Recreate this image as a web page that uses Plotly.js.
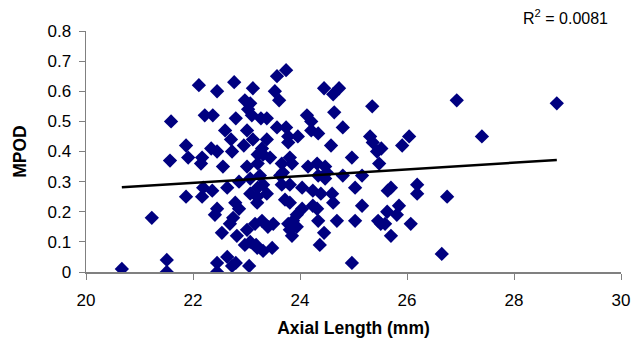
<!DOCTYPE html>
<html>
<head>
<meta charset="utf-8">
<script src="https://cdn.plot.ly/plotly-3.0.1.min.js"></script>
<style>html,body{margin:0;padding:0;background:#fff;}#chart{width:633px;height:346px;}</style>
</head>
<body>
<div id="chart"></div>
<script>
// Axial length (mm)
const axialLength = [
  20.67,21.23,21.51,21.51,21.59,21.57,
  21.87,21.91,21.87,22.11,22.45,22.77,23.12,22.97,23.07,23.03,23.10,22.22,22.37,22.80,
  22.60,23.01,22.71,23.12,22.95,22.34,22.45,22.73,23.21,22.17,22.15,22.56,23.01,23.21,
  22.19,22.36,22.17,22.64,22.86,23.07,23.07,22.79,22.86,23.20,22.41,22.45,22.75,22.69,
  22.54,22.82,23.01,23.07,22.97,23.18,22.64,22.45,22.80,22.73,23.05,22.45,
  23.74,23.57,23.53,23.61,24.45,24.73,24.62,25.35,24.64,24.13,24.21,24.80,23.27,23.38,
  23.57,23.74,23.78,23.96,24.21,24.34,23.38,23.78,24.58,23.29,23.31,23.44,23.81,23.66,
  23.85,24.32,24.47,24.15,24.97,25.31,25.36,25.44,25.48,23.68,24.50,24.80,25.16,23.25,
  23.31,23.21,23.63,23.66,23.81,24.34,24.47,25.03,24.04,24.24,24.39,24.60,24.62,23.20,
  23.38,23.72,23.81,24.24,24.32,24.04,23.94,23.87,23.78,23.81,23.85,23.50,23.40,23.16,
  23.29,23.94,24.34,24.69,25.03,25.16,25.46,24.45,24.37,23.20,23.31,23.48,24.97,
  26.93,28.80,26.04,25.91,27.40,25.52,25.64,25.70,26.19,26.19,26.75,25.63,25.85,25.81,
  25.51,25.59,26.07,25.70,26.65
];
// MPOD
const mpod = [
  0.01,0.18,0.04,0.00,0.50,0.37,
  0.42,0.38,0.25,0.62,0.60,0.63,0.61,0.57,0.56,0.54,0.52,0.52,0.52,0.51,
  0.47,0.47,0.44,0.44,0.42,0.41,0.40,0.40,0.39,0.38,0.36,0.35,0.35,0.36,
  0.28,0.27,0.25,0.28,0.30,0.31,0.26,0.23,0.21,0.25,0.19,0.21,0.18,0.16,
  0.13,0.12,0.14,0.10,0.09,0.09,0.05,0.03,0.03,0.02,0.02,0.00,
  0.67,0.65,0.60,0.57,0.61,0.61,0.59,0.55,0.53,0.52,0.50,0.48,0.51,0.51,
  0.48,0.48,0.45,0.45,0.47,0.46,0.44,0.43,0.42,0.41,0.39,0.38,0.38,0.36,
  0.36,0.36,0.35,0.35,0.38,0.45,0.43,0.40,0.36,0.33,0.33,0.32,0.32,0.32,
  0.29,0.28,0.32,0.29,0.29,0.32,0.31,0.28,0.28,0.27,0.26,0.26,0.23,0.23,
  0.26,0.24,0.23,0.22,0.21,0.21,0.19,0.17,0.16,0.14,0.12,0.16,0.15,0.16,
  0.17,0.15,0.17,0.17,0.17,0.22,0.17,0.13,0.09,0.08,0.07,0.08,0.03,
  0.57,0.56,0.45,0.42,0.45,0.41,0.27,0.28,0.29,0.26,0.25,0.20,0.22,0.19,
  0.16,0.16,0.16,0.12,0.06
];
// Linear trendline
const trendX = [20.67, 28.8];
const trendY = [0.281, 0.372];
const r2Label = 'R<sup>2</sup> = 0.0081';
const xTitle = 'Axial Length (mm)';
const yTitle = 'MPOD';

const font = 'Liberation Sans, Arial, sans-serif';
const traces = [
  {x: axialLength, y: mpod, type: 'scatter', mode: 'markers',
   marker: {symbol: 'diamond', size: 11, color: '#000080'}, hoverinfo: 'skip'},
  {x: trendX, y: trendY, type: 'scatter', mode: 'lines',
   line: {color: '#000000', width: 2.5}, hoverinfo: 'skip'}
];
const layout = {
  width: 633, height: 346,
  margin: {l: 86, r: 12, t: 31, b: 74},
  paper_bgcolor: '#ffffff', plot_bgcolor: '#ffffff',
  showlegend: false,
  font: {family: font, size: 17, color: '#000'},
  xaxis: {range: [20, 30], tickvals: [20,22,24,26,28,30], ticks: 'outside', ticklen: 6,
    tickcolor: '#808080', showline: true, linecolor: '#808080', linewidth: 1.5,
    tickfont: {family: font, size: 17, color: '#000'},
    showgrid: false, zeroline: false, ticklabelstandoff: 6,
    title: {text: xTitle, font: {family: font, size: 17.5, color: '#000', weight: 'bold'}, standoff: 13}},
  yaxis: {range: [0, 0.8], tickvals: [0,0.1,0.2,0.3,0.4,0.5,0.6,0.7,0.8], ticktext: ['0','0.1','0.2','0.3','0.4','0.5','0.6','0.7','0.8'],
    ticks: 'outside', ticklen: 6, tickcolor: '#808080', showline: true, linecolor: '#808080', linewidth: 1.5,
    tickfont: {family: font, size: 17, color: '#000'},
    showgrid: false, zeroline: false, ticklabelstandoff: 4,
    title: {text: yTitle, font: {family: font, size: 17.5, color: '#000', weight: 'bold'}, standoff: 16}},
  annotations: [{text: r2Label, xref: 'paper', yref: 'paper', x: 0.98, y: 1.058,
    xanchor: 'right', yanchor: 'middle', showarrow: false, font: {family: font, size: 16, color: '#000'}}]
};
Plotly.newPlot('chart', traces, layout, {staticPlot: true, displayModeBar: false});
</script>
</body>
</html>
